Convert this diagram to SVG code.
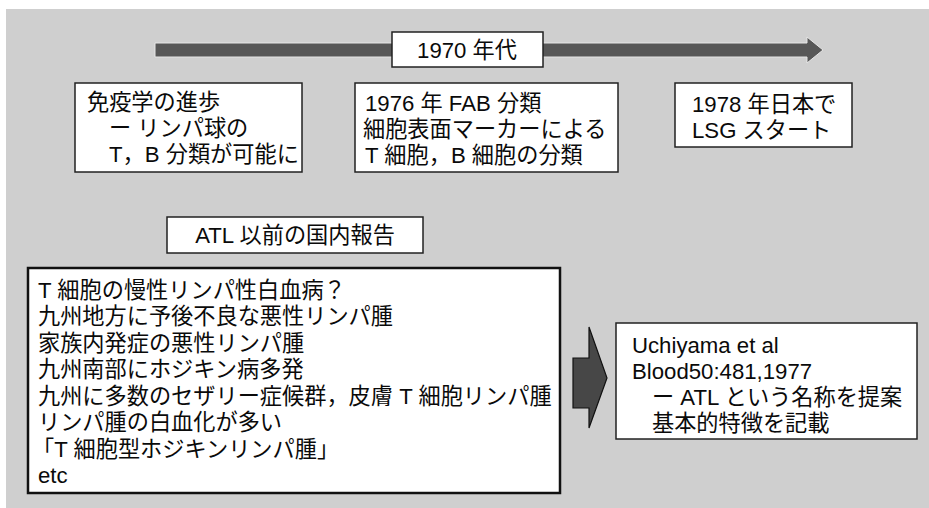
<svg xmlns="http://www.w3.org/2000/svg" width="929" height="508" viewBox="0 0 929 508">
<style>
text{font-family:"Liberation Sans","Noto Sans CJK JP",sans-serif;font-size:22.2px;fill:#0a0a0a}
.box{fill:#fff;stroke:#222;stroke-width:1.5}
.big{fill:#fff;stroke:#111;stroke-width:2.5}
</style>
<rect x="0" y="0" width="929" height="508" fill="#fff"/>
<rect x="6" y="9" width="923" height="499" fill="#cfcfcf"/>
<g id="connectors">
<path d="M155,43 H807 V37 L823,50 L807,63 V57 H155 Z" fill="#575757" stroke="#e6e6e6" stroke-width="1"/>
<path d="M573,358 H589 V327 L607,378 L589,428 V408 H573 Z" fill="#474747" stroke="#111" stroke-width="1.2"/>
</g>
<g id="era">
<rect class="box" x="392" y="32" width="151" height="35"/>
<text x="467" y="58" text-anchor="middle">1970 年代</text>
</g>
<g id="immunology">
<rect class="box" x="75" y="83" width="227" height="89"/>
<text x="87" y="110">免疫学の進歩</text>
<text x="109" y="136">ー リンパ球の</text>
<text x="109" y="162">T，B 分類が可能に</text>
</g>
<g id="fab">
<rect class="box" x="355" y="83" width="263" height="89"/>
<text x="365" y="111">1976 年 FAB 分類</text>
<text x="363" y="137">細胞表面マーカーによる</text>
<text x="365" y="163">T 細胞，B 細胞の分類</text>
</g>
<g id="lsg">
<rect class="box" x="675" y="83" width="177" height="64"/>
<text x="692" y="112">1978 年日本で</text>
<text x="692" y="138">LSG スタート</text>
</g>
<g id="atl-title">
<rect class="box" x="167" y="217" width="256" height="36"/>
<text x="295" y="243" text-anchor="middle">ATL 以前の国内報告</text>
</g>
<g id="reports">
<rect class="big" x="28" y="268" width="532" height="225"/>
<text x="38" y="298">T 細胞の慢性リンパ性白血病？</text>
<text x="38" y="324">九州地方に予後不良な悪性リンパ腫</text>
<text x="38" y="351">家族内発症の悪性リンパ腫</text>
<text x="38" y="377">九州南部にホジキン病多発</text>
<text x="38" y="404">九州に多数のセザリー症候群，皮膚 T 細胞リンパ腫</text>
<text x="38" y="430">リンパ腫の白血化が多い</text>
<text x="32" y="457">「T 細胞型ホジキンリンパ腫」</text>
<text x="38" y="483">etc</text>
</g>
<g id="uchiyama">
<rect class="box" x="616" y="323" width="301" height="116"/>
<text x="632" y="353">Uchiyama et al</text>
<text x="632" y="379">Blood50:481,1977</text>
<text x="652" y="405">ー ATL という名称を提案</text>
<text x="652" y="431">基本的特徴を記載</text>
</g>
</svg>
